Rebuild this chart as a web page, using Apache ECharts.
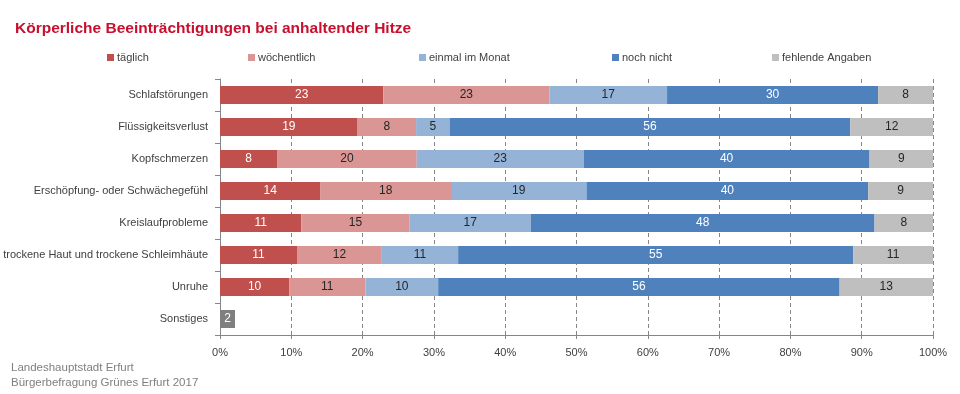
<!DOCTYPE html>
<html>
<head>
<meta charset="utf-8">
<script src="https://cdn.jsdelivr.net/npm/echarts@6/dist/echarts.min.js"></script>
<style>
html,body{margin:0;padding:0;background:#fff;}
#chart{width:960px;height:394px;}
</style>
</head>
<body>
<div id="chart"></div>
<script>
const categories = ["Schlafstörungen","Flüssigkeitsverlust","Kopfschmerzen","Erschöpfung- oder Schwächegefühl","Kreislaufprobleme","trockene Haut und trockene Schleimhäute","Unruhe","Sonstiges"];
const seriesNames = ["täglich","wöchentlich","einmal im Monat","noch nicht","fehlende Angaben"];
const taeglich      = [22.9, 19.3,  8.0, 14.1, 11.4, 10.8,  9.7, null];
const woechentlich  = [23.3,  8.2, 19.6, 18.3, 15.2, 11.9, 10.7, null];
const einmalMonat   = [16.5,  4.7, 23.4, 19.0, 17.0, 10.7, 10.2, null];
const nochNicht     = [29.6, 56.2, 40.1, 39.5, 48.2, 55.4, 56.3, null];
const fehlend       = [ 7.7, 11.6,  8.9,  9.1,  8.2, 11.2, 13.1, null];
const sonstiges     = [null, null, null, null, null, null, null, 2.1];
const xTicks = [0,10,20,30,40,50,60,70,80,90,100];

const FONT = '"Liberation Sans", Arial, sans-serif';
const colors = ['#C0504D','#D99694','#95B3D7','#4F81BD','#BFBFBF'];
const labelColors = ['#ffffff','#262626','#262626','#ffffff','#262626'];
const valuesList = [taeglich, woechentlich, einmalMonat, nochNicht, fehlend];
const legendLeft = [102, 243, 414, 607, 767];

const series = seriesNames.map((n, i) => ({
  name: n, type: 'bar', stack: 'total', barWidth: 18,
  data: valuesList[i],
  itemStyle: { color: colors[i] },
  label: {
    show: true, position: 'inside', color: labelColors[i],
    fontFamily: FONT, fontSize: 12,
    formatter: p => (p.value == null ? '' : Math.round(p.value))
  }
}));
series.push({
  name: 'Sonstiges', type: 'bar', stack: 'total', barWidth: 18,
  data: sonstiges,
  itemStyle: { color: '#7F7F7F' },
  label: { show: true, position: 'inside', color: '#ffffff', fontFamily: FONT, fontSize: 12,
    formatter: p => (p.value == null ? '' : Math.round(p.value)) }
});

const chart = echarts.init(document.getElementById('chart'), null, {renderer: 'canvas'});
chart.setOption({
  animation: false,
  backgroundColor: '#ffffff',
  title: [
    { text: 'Körperliche Beeinträchtigungen bei anhaltender Hitze', left: 10, top: 16,
      textStyle: { color: '#C8102E', fontFamily: FONT, fontSize: 15.5, fontWeight: 'bold' } },
    { text: 'Landeshauptstadt Erfurt\nBürgerbefragung Grünes Erfurt 2017', left: 6, top: 355,
      textStyle: { color: '#7F7F7F', fontFamily: FONT, fontSize: 11.5, fontWeight: 'normal', lineHeight: 15 } }
  ],
  legend: seriesNames.map((n, i) => ({
    data: [n], left: legendLeft[i], top: 47, itemWidth: 7, itemHeight: 7, itemGap: 4,
    icon: 'rect', selectedMode: false,
    textStyle: { color: '#404040', fontFamily: FONT, fontSize: 11, padding: [0,0,0,-2] }
  })),
  grid: { left: 220, right: 27, top: 79, bottom: 59, containLabel: false, outerBoundsMode: 'none' },
  xAxis: {
    type: 'value', min: xTicks[0], max: xTicks[xTicks.length-1], interval: 10,
    axisLine: { show: true, lineStyle: { color: '#868686', width: 1 } },
    axisTick: { show: true, length: 4, lineStyle: { color: '#868686' } },
    axisLabel: { formatter: '{value}%', color: '#404040', fontFamily: FONT, fontSize: 11, margin: 12 },
    splitLine: { show: true, lineStyle: { color: '#868686', type: [4,3], width: 1 } }
  },
  yAxis: {
    type: 'category', data: categories, inverse: true,
    axisLine: { show: true, lineStyle: { color: '#868686', width: 1 } },
    axisTick: { show: true, length: 5, lineStyle: { color: '#868686' } },
    axisLabel: { color: '#404040', fontFamily: FONT, fontSize: 11, margin: 12 },
    splitLine: { show: false }
  },
  series: series
});
</script>
</body>
</html>
